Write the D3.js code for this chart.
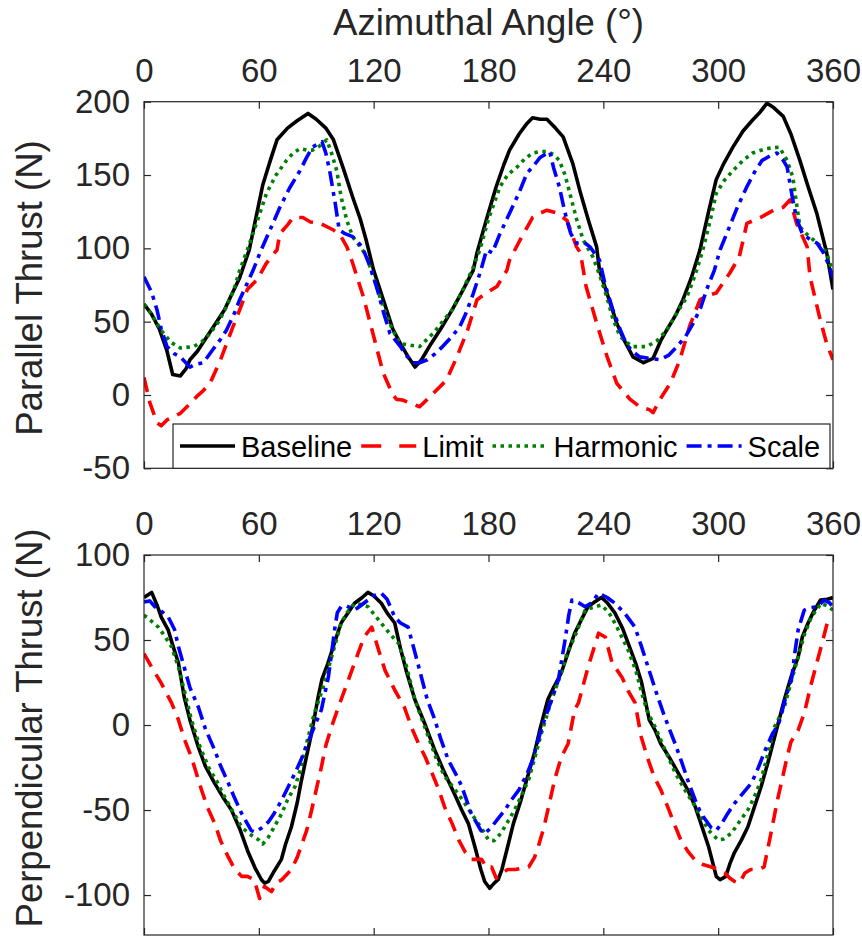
<!DOCTYPE html>
<html>
<head>
<meta charset="utf-8">
<script src="https://cdn.jsdelivr.net/npm/d3@7"></script>
<style>
  body { margin: 0; background: #fff; }
  text { font-family: "Liberation Sans", Arial, sans-serif; }
</style>
</head>
<body>
<svg id="chart" width="862" height="937"></svg>
<script>
// angle ticks and y ticks
var angleTicks = [0, 60, 120, 180, 240, 300, 360];
var parallelTicks = [-50, 0, 50, 100, 150, 200];
var perpTicks = [-100, -50, 0, 50, 100];
var seriesNames = ["Baseline", "Limit", "Harmonic", "Scale"];

// parallel thrust, [angle, N]
var parBaseline = [[0,62],[4,55],[8,45],[12,30],[15,14],[19,13],[22,18],[24,24],[28,30],[33,40],[38,50],[42,58],[46,69],[50,80],[55,99],[62,143],[66,160],[69.5,174],[75,182],[80,187],[85.7,192],[90,188],[95,182],[99,174],[104,155],[109,135],[113,120],[116,106],[120,85],[125,65],[130,45],[134,35],[138,26],[141.6,19],[145,24],[150,35],[155,45],[161,58],[166,70],[172,85],[174,97],[179,120],[184,142],[188,157],[191,167],[196,178],[200,185],[203,189],[207,188],[210.5,188],[215,182],[219,176],[224,158],[228,138],[232,120],[236.5,101],[238,85],[243,65],[247,49],[251,37],[255.5,26],[261,22],[266,25],[270,37],[273,44],[278,55],[281.6,65],[286,80],[290.5,99],[295,125],[299,147],[303,158],[307.7,169],[313,180],[318,187.5],[322,193],[325.5,199],[329,196],[334,190],[338,178],[342.7,160],[347,142],[351.5,124],[356.7,97],[360,72]];
var parLimit = [[0,12],[3,-5],[6.8,-19],[9,-21],[12,-17],[19,-12.5],[24,-6],[27.6,-1],[31,3],[34.5,8],[40,24],[46.5,46.6],[50,58],[54,72],[59,78.5],[64,90],[69.5,99],[71,110],[75,116],[78,121],[83,121],[87,118],[92,117],[99,112.5],[103,108],[106,101],[109,90],[114.6,67],[120,40],[125,15],[130,0],[132,-3],[135,-3.4],[140,-6],[144,-8],[148,-3],[151,1],[158,10],[163.5,26],[169,44],[174,65],[179,69.6],[184.4,74],[189.6,85],[191,92],[196.5,105.7],[203,121],[207,124],[210.5,126],[216,124],[221,119],[226,101],[228,97],[231,74],[236.5,49],[242,26],[247,8],[254,-3],[259,-8],[264,-10],[266,-12],[269.6,-3],[275,8],[280,24],[285,46.6],[290.5,65],[295,68],[299,69.6],[306,83],[311,94],[315,117],[322,121],[329,126],[334,128],[337.5,133],[341,117],[346.5,101],[348,80.6],[353,53],[356.7,35],[360,24]];
var parHarmonic = [[0,62],[4,55],[9,44],[14,36],[19,32],[26,33],[30,36],[34.5,42],[39,50],[43,60],[47,72],[50,85],[54,99],[59,118],[64,137.5],[69,150],[74.5,160],[78,165],[81.5,168],[85,167],[88,167],[92,170],[95.5,174],[98,165],[100.7,153],[103,135],[106,119],[109,108],[113,101],[116,95.5],[120,80],[125,60],[130,44],[134,35],[139,34],[144,33],[151,42],[156,50],[161,58],[166,70],[172,87],[175.5,99],[180,120],[186,142],[190,150],[195,155.5],[199,161],[203,165],[207,166],[210.5,166],[214,164],[217,160],[220,150],[222.5,137.5],[226,120],[229.5,105.7],[234.6,94],[238,82],[241.8,67],[245,52],[248.7,40],[252,36],[255.5,33],[262.8,33],[268,37],[273,44],[278,55],[283.7,67],[288,82],[292,99],[296,120],[299,137.5],[303,146],[307.7,153],[313,160],[318,165],[325,168],[332,169],[336,160],[339,148.6],[341,130],[342.7,114.7],[346,110],[349.6,106],[353,102],[356.7,97],[360,83]];
var parScale = [[0,80.6],[4,70],[6.8,58],[9,45],[12,33],[16,28],[19,26],[24,19],[27,21],[31,22],[36,31],[40,38],[43,44],[47,55],[50,65],[57,85],[60.6,97],[66,113],[71,128],[76,141],[81.5,153],[85,162],[88,169],[93,172.7],[95,165],[97,153],[100,130],[102,112.5],[105,110],[109,108],[114,101],[118,88],[122,71.6],[125,57],[128.5,42],[134,33],[137,27],[140.5,22],[144,22],[148,24],[152,28],[156,33],[161,40],[165,46.6],[168,55],[172,69],[176,85],[179,99],[182,97],[186,110],[191,124],[196,138],[200,151],[204,157],[207,162],[212,166],[214,155],[217,142],[219,130],[221,119],[223,110],[226,103.5],[230,104],[233,101],[238,92],[241,75],[245,58],[249,44],[252,35],[255,30],[259,26],[264,25],[269.6,24],[274,27],[278.5,33],[283,40],[287,49],[291,60],[294,72],[298,85],[301,99],[306,115],[310,128],[315,142],[319,152],[323,160],[327,163],[330.7,165],[334,160],[336,155.6],[339,133],[341,120],[344,110],[348,106],[351.6,103.6],[355,97],[358,88],[360,80]];

// perpendicular thrust, [angle, N]
var perpBaseline = [[0,75],[4,78],[7,70],[9,63.5],[12.6,56],[15,47],[18,36.5],[21,16.5],[24,3],[28.4,-13],[32,-24],[36.8,-34],[41,-42],[45.7,-50],[50,-61],[54.5,-75],[58,-84],[61.4,-91],[63,-93],[65,-92],[68,-86],[71.8,-79],[74,-70],[77,-60],[80,-46],[82,-34],[85,-18],[87.5,-5],[91,16.5],[93,27],[96,36],[100,50],[103,60],[106,65],[110,71.6],[114,75],[117,78],[120,76],[124,71.6],[127,66],[131,60],[134,45],[137,32],[141.5,15],[147,0],[152,-15],[157,-28],[162,-40],[166,-50],[169.5,-58],[173,-72],[176,-85],[178,-92],[180.6,-96],[183,-93],[185,-91],[187,-85],[190,-71.6],[193,-58],[197,-44],[200,-32],[204,-16.5],[207,-2],[211,15],[214,22],[218,30.6],[222,44],[225,54],[229,63],[232,69.6],[235,72],[239,75],[242,72],[246,66],[250,57],[253,48],[257,36],[260,25],[264,3],[267,-3],[270,-11],[275,-20],[279,-28],[284,-38],[288,-48],[291,-58],[295,-71.6],[299,-89],[301,-91],[304,-89],[306,-82],[308.5,-75],[312,-68],[315.5,-60],[319,-48],[322.5,-36],[326,-22],[329.5,-7],[334.6,15],[338,28],[341.8,40],[344,52],[347,60],[350,67],[353.5,73.5],[357,74],[360,75]];
var perpLimit = [[0,42],[4,34],[9,24.6],[14.4,13],[18,3],[21,-8],[24.8,-19],[30,-38],[33,-48],[37,-58],[40,-68],[44,-77.6],[47,-84],[51,-89],[54,-89],[57.6,-91],[60.4,-102],[63,-95],[66.6,-98],[69,-93],[72,-91],[77,-85],[80,-78],[82,-71.6],[85,-62],[87.6,-50],[90,-38],[92.7,-24.6],[95,-12],[98,-1],[103,15],[106,24],[110,36.5],[115,51.8],[119,57.6],[122.6,44],[126,32],[131,20.6],[136,10.6],[140,-2],[143.5,-11],[147,-19],[150.4,-28],[154,-38],[157,-48],[161,-58],[164.4,-67.6],[168,-75],[171,-79],[176.4,-79],[179,-84],[181.6,-83.5],[184,-90],[187,-87],[190,-85],[194,-85],[198,-84],[201,-83.5],[204,-78],[206,-71.6],[209,-60],[211,-50],[214.6,-32],[218,-19],[221.6,-11],[225,9],[227,13],[232,34],[237.5,54],[241,51.8],[244.6,36.5],[249.8,28],[253,20],[256.6,13],[259.8,-7],[263,-19],[266.6,-30.6],[270,-38],[273.6,-48],[277,-58],[280.5,-67.6],[284,-74],[287.6,-79],[292,-82],[296.5,-83.5],[300,-85],[303.5,-87],[306,-90],[308.6,-92],[311,-93],[314,-87],[317,-85],[320.7,-85],[324,-83.5],[327.6,-63.5],[331,-44],[336,-19],[338,-10],[341.8,-3],[345,7],[348.7,24.6],[353.8,46],[357,60],[360,56]];
var perpHarmonic = [[0,64.7],[4,61],[7.5,57.6],[11,52],[14.4,46],[18,34],[21,20.6],[24.8,3],[29,-12],[33.6,-24.6],[38,-33],[42,-42],[46,-50],[51,-60],[55,-64],[60,-67.6],[62,-70],[65,-66],[68,-60],[72,-52],[75,-44],[79,-36],[82,-25],[84,-15],[89,7],[93,20],[96,32],[100,48],[103,60],[106,66],[110,71.6],[113,71],[117,69.6],[121,64],[125.6,57.6],[129,53],[133,48],[137,35],[141.5,15],[147,-2],[153,-20.6],[157,-30],[162.5,-38],[167,-45],[171,-52],[176,-60],[180,-67.6],[183,-68],[186.6,-63.5],[190,-57],[193.6,-50],[197,-42],[201,-32],[204,-20],[207.6,-5],[213,15],[218,30.6],[221,42],[225,51.8],[230.5,67.6],[234,69],[239,70.6],[243,66],[246,60],[250,51],[253,44],[257,32],[260,19],[263,8],[267,-1],[272,-14],[277.5,-28],[282,-37],[288,-48],[292,-56],[295,-62],[300,-67.6],[303,-67],[307,-63.5],[311,-57],[315.5,-50],[319,-42],[322.5,-32],[326,-17],[329.5,-1],[334.6,10.6],[338,25],[341.8,40],[345,53],[348.7,63.5],[353.8,71.6],[357,70],[360,67.6]];
var perpScale = [[0,72.4],[3,73],[5.7,69.6],[9,67],[12.7,63.5],[16,56],[18,46],[21,34],[24,22],[28.4,10.6],[32,-2],[37,-15],[40,-24],[44,-34],[47,-42],[51,-52],[56,-62],[58,-63],[61.4,-60.6],[65,-57],[68,-52],[72,-44],[75.5,-36],[79,-28],[82,-20.6],[85,-12],[87.5,-5],[92.7,9],[94,16],[96.3,28],[98,42],[99.6,56],[101,66],[103,69.6],[106,70],[110,67.6],[113,70],[117,73.5],[120,76],[124,77.5],[127,74],[131,63.5],[134,60],[138,57.6],[141,45],[145,28],[148,15],[152,3],[155,-8],[159,-20.6],[163,-29],[166,-36],[171,-52],[176,-62],[178,-64],[181.6,-60],[185,-55],[188.6,-50],[192,-44],[196,-38],[200,-29],[203,-20.6],[208,-1],[213,15],[216.5,26.5],[220,50],[222,65],[223.6,73.5],[227,72],[230.5,69.6],[234,72],[237.6,77.6],[242,75],[246,71.6],[251,66],[256.5,57.6],[260,46],[263.4,34],[268,18],[272,5],[277.5,-11],[281,-22],[284.6,-34],[288,-44],[291,-52],[296.5,-60.6],[299,-62],[301.8,-58],[305,-52],[308.6,-46],[313,-40],[317.5,-34],[321,-25],[324.5,-15],[328,-6],[331.7,1],[335,15],[338.5,28],[340,42],[341.8,56],[345,67.6],[348,69],[352,69.6],[355.5,73.5],[358,72],[360,69.6]];

var styles = [
  {color: "#000000", dash: null},
  {color: "#ff0000", dash: "15,9"},
  {color: "#008000", dash: "3.5,4.5"},
  {color: "#0000ff", dash: "15,6,4,6"}
];
var axisColor = "#262626";
var plainNum = function(d){ return String(d); };

var svg = d3.select("#chart");
var left = 144, right = 833;

var x = d3.scaleLinear().domain([0, 360]).range([left, right]);

var drawPanel = function(id, top, bottom, yDomain, yTicks, series, label, labelY) {
  var y = d3.scaleLinear().domain(yDomain).range([bottom, top]);
  var g = svg.append("g").attr("id", id);

  g.append("clipPath").attr("id", id + "-clip")
    .append("rect").attr("x", left).attr("y", top)
    .attr("width", right - left).attr("height", bottom - top);

  var line = d3.line().x(function(d){ return x(d[0]); }).y(function(d){ return y(d[1]); });
  var lines = g.append("g").attr("clip-path", "url(#" + id + "-clip)");
  series.forEach(function(s, i) {
    lines.append("path").datum(s)
      .attr("d", line)
      .attr("fill", "none")
      .attr("stroke", styles[i].color)
      .attr("stroke-width", 3.6)
      .attr("stroke-linejoin", "round")
      .attr("stroke-dasharray", styles[i].dash);
  });

  var axTop = g.append("g").attr("transform", "translate(0," + top + ")")
    .call(d3.axisTop(x).tickValues(angleTicks).tickSize(-7).tickPadding(20).tickFormat(plainNum));
  var axBottom = g.append("g").attr("transform", "translate(0," + bottom + ")")
    .call(d3.axisBottom(x).tickValues(angleTicks).tickSize(-7).tickFormat(""));
  var axLeft = g.append("g").attr("transform", "translate(" + left + ",0)")
    .call(d3.axisLeft(y).tickValues(yTicks).tickSize(-7).tickPadding(14).tickFormat(plainNum));
  var axRight = g.append("g").attr("transform", "translate(" + right + ",0)")
    .call(d3.axisRight(y).tickValues(yTicks).tickSize(-7).tickFormat(""));

  [axTop, axBottom, axLeft, axRight].forEach(function(a) {
    a.select(".domain").remove();
    a.selectAll(".tick line").attr("stroke", axisColor).attr("stroke-width", 1.2);
    a.selectAll(".tick text").attr("fill", axisColor).style("font-size", "33px")
      .style("font-family", "'Liberation Sans', Arial, sans-serif");
  });

  g.append("rect").attr("x", left).attr("y", top)
    .attr("width", right - left).attr("height", bottom - top)
    .attr("fill", "none").attr("stroke", axisColor).attr("stroke-width", 1.2);

  g.append("text")
    .attr("transform", "translate(42," + labelY + ") rotate(-90)")
    .attr("text-anchor", "middle")
    .attr("fill", axisColor)
    .style("font-size", "36.5px")
    .text(label);

  return g;
};

drawPanel("par", 101.7, 468.3, [-50, 200], parallelTicks,
  [parBaseline, parLimit, parHarmonic, parScale], "Parallel Thrust (N)", 288);
drawPanel("perp", 555, 935, [-123.5, 100], perpTicks,
  [perpBaseline, perpLimit, perpHarmonic, perpScale], "Perpendicular Thrust (N)", 728);

svg.append("text")
  .attr("x", (left + right) / 2).attr("y", 35)
  .attr("text-anchor", "middle")
  .attr("fill", axisColor)
  .style("font-size", "36.5px")
  .text("Azimuthal Angle (°)");

// legend
var legend = svg.append("g");
legend.append("rect")
  .attr("x", 173).attr("y", 424).attr("width", 657).attr("height", 44.3)
  .attr("fill", "#fff").attr("stroke", axisColor).attr("stroke-width", 1.2);

var lx = 180, ly = 446;
seriesNames.forEach(function(name, i) {
  legend.append("line")
    .attr("x1", lx).attr("x2", lx + 55).attr("y1", ly).attr("y2", ly)
    .attr("stroke", styles[i].color).attr("stroke-width", 3.6)
    .attr("stroke-dasharray", i == 1 ? "20,18" : styles[i].dash);
  var t = legend.append("text")
    .attr("x", lx + 61).attr("y", ly + 11)
    .attr("fill", "#000")
    .style("font-size", "29px")
    .text(name);
  lx = lx + 61 + t.node().getComputedTextLength() + 9;
});
</script>
</body>
</html>
